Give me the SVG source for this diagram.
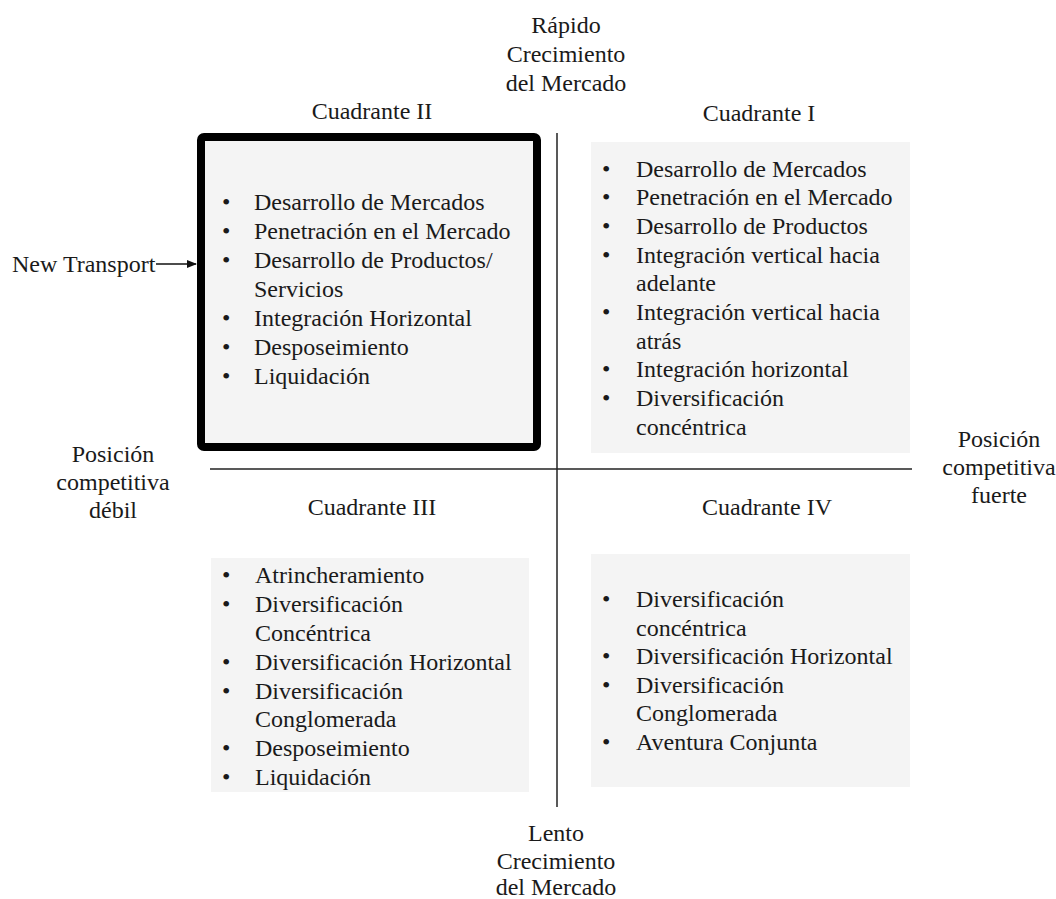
<svg xmlns="http://www.w3.org/2000/svg" width="1056" height="899" viewBox="0 0 1056 899">
<style>
text{font-size:24px;fill:#1a1a1a}
.c{text-anchor:middle}
.box{fill:#f4f4f4}
.axis{stroke:#222;stroke-width:1.5;fill:none}
</style>
<defs>
<marker id="arr" markerWidth="10" markerHeight="10" refX="9" refY="5" orient="auto" markerUnits="userSpaceOnUse">
<path d="M0,1 L10,5 L0,9 Z" fill="#111"/>
</marker>
</defs>
<rect width="1056" height="899" fill="#fff"/>
<g font-family="Liberation Serif, DejaVu Serif, serif">
<g id="axes">
<line class="axis" x1="557" y1="133" x2="557" y2="807"/>
<line class="axis" x1="210" y1="469" x2="912" y2="469"/>
</g>
<g id="label-top">
<text class="c" x="566" y="33">Rápido</text>
<text class="c" x="566" y="62">Crecimiento</text>
<text class="c" x="566" y="91">del Mercado</text>
</g>
<g id="label-bottom">
<text class="c" x="556" y="841">Lento</text>
<text class="c" x="556" y="869">Crecimiento</text>
<text class="c" x="556" y="895">del Mercado</text>
</g>
<g id="label-left">
<text class="c" x="113" y="462">Posición</text>
<text class="c" x="113" y="490">competitiva</text>
<text class="c" x="113" y="518">débil</text>
</g>
<g id="label-right">
<text class="c" x="999" y="447">Posición</text>
<text class="c" x="999" y="475">competitiva</text>
<text class="c" x="999" y="503">fuerte</text>
</g>
<g id="quadrant-2">
<text class="c" x="372" y="119">Cuadrante II</text>
<rect class="box" x="201" y="137" width="336" height="310" rx="3" stroke="#000" stroke-width="8"/>
<g>
<text x="222" y="210">•</text><text x="254" y="210">Desarrollo de Mercados</text>
<text x="222" y="239">•</text><text x="254" y="239">Penetración en el Mercado</text>
<text x="222" y="268">•</text><text x="254" y="268">Desarrollo de Productos/</text>
<text x="254" y="297">Servicios</text>
<text x="222" y="326">•</text><text x="254" y="326">Integración Horizontal</text>
<text x="222" y="355">•</text><text x="254" y="355">Desposeimiento</text>
<text x="222" y="384">•</text><text x="254" y="384">Liquidación</text>
</g>
</g>
<g id="quadrant-1">
<text class="c" x="759" y="121">Cuadrante I</text>
<rect class="box" x="591" y="142" width="319" height="311"/>
<text x="602" y="177">•</text><text x="636" y="177">Desarrollo de Mercados</text>
<text x="602" y="205">•</text><text x="636" y="205">Penetración en el Mercado</text>
<text x="602" y="234">•</text><text x="636" y="234">Desarrollo de Productos</text>
<text x="602" y="263">•</text><text x="636" y="263">Integración vertical hacia</text>
<text x="636" y="291">adelante</text>
<text x="602" y="320">•</text><text x="636" y="320">Integración vertical hacia</text>
<text x="636" y="349">atrás</text>
<text x="602" y="377">•</text><text x="636" y="377">Integración horizontal</text>
<text x="602" y="406">•</text><text x="636" y="406">Diversificación</text>
<text x="636" y="435">concéntrica</text>
</g>
<g id="quadrant-3">
<text class="c" x="372" y="515">Cuadrante III</text>
<rect class="box" x="211" y="558" width="318" height="234"/>
<text x="222" y="583">•</text><text x="255" y="583">Atrincheramiento</text>
<text x="222" y="612">•</text><text x="255" y="612">Diversificación</text>
<text x="255" y="641">Concéntrica</text>
<text x="222" y="670">•</text><text x="255" y="670">Diversificación Horizontal</text>
<text x="222" y="699">•</text><text x="255" y="699">Diversificación</text>
<text x="255" y="727">Conglomerada</text>
<text x="222" y="756">•</text><text x="255" y="756">Desposeimiento</text>
<text x="222" y="785">•</text><text x="255" y="785">Liquidación</text>
</g>
<g id="quadrant-4">
<text class="c" x="767" y="515">Cuadrante IV</text>
<rect class="box" x="591" y="554" width="319" height="233"/>
<text x="602" y="607">•</text><text x="636" y="607">Diversificación</text>
<text x="636" y="636">concéntrica</text>
<text x="602" y="664">•</text><text x="636" y="664">Diversificación Horizontal</text>
<text x="602" y="693">•</text><text x="636" y="693">Diversificación</text>
<text x="636" y="721">Conglomerada</text>
<text x="602" y="750">•</text><text x="636" y="750">Aventura Conjunta</text>
</g>
<g id="new-transport">
<text x="12" y="272">New Transport</text>
</g>
<g id="connectors">
<line x1="156" y1="264" x2="196" y2="264" stroke="#111" stroke-width="1.5" marker-end="url(#arr)"/>
</g>
</g>
</svg>
